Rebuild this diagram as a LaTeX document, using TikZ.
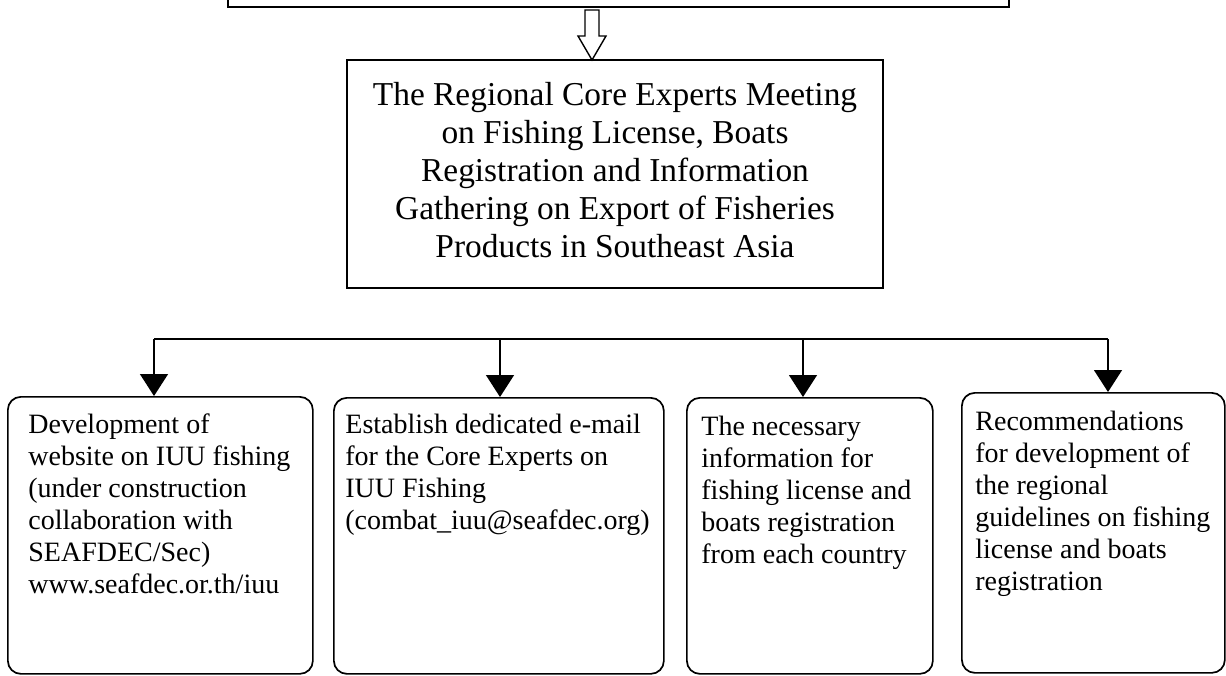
\documentclass[tikz,border=0pt]{standalone}
\usepackage{fontspec}
\setmainfont{Liberation Serif}
\usetikzlibrary{arrows.meta}
\begin{document}
\begin{tikzpicture}[x=0.5pt,y=-0.5pt,
  frame/.style={draw, line width=0.85pt, inner sep=0pt},
  rbox/.style={draw, line width=0.85pt, rounded corners=6.5pt, anchor=north west, inner sep=0pt},
  boxtext/.style={anchor=base west, inner sep=0pt, font=\fontsize{14}{16}\selectfont},
  conn/.style={line width=0.7pt},
  tipdown/.style={-{Triangle[width=14pt,length=11pt]}}]
\useasboundingbox (0,0) rectangle (1226,675);
\clip (0,0) rectangle (1226,675);
% top box (cut by the top edge)
\node[frame, anchor=south west, minimum width=390.5pt, minimum height=30pt] (top) at (227,8) {};
% middle box
\node[frame, minimum width=268pt, minimum height=114pt] (mid) at (615,174) {};
\node[align=center, inner sep=0pt, font=\fontsize{16.7}{19}\selectfont] (midtext) at ([yshift=2pt]mid.center)
  {The Regional Core Experts Meeting\\ on Fishing License, Boats\\ Registration and Information\\ Gathering on Export of Fisheries\\ Products in Southeast Asia};
% hollow arrow
\draw[line width=0.7pt, fill=white] (585,10) -- (599,10) -- (599,36) -- (606,36) -- (592,60) -- (578,36) -- (585,36) -- cycle;
% bottom boxes
\node[rbox, minimum width=152.5pt, minimum height=138.5pt] (b1) at (7,396) {};
\node[rbox, minimum width=165pt, minimum height=138pt] (b2) at (333,397) {};
\node[rbox, minimum width=123pt, minimum height=138pt] (b3) at (686,397) {};
\node[rbox, minimum width=131.5pt, minimum height=140pt] (b4) at (961,392) {};
% branch connectors
\coordinate (h1) at (154,339);
\coordinate (h2) at (500,339);
\coordinate (h3) at (803,339);
\coordinate (h4) at (1108,339);
\draw[conn] (h1) -- (h4);
\foreach \i in {1,2,3,4} {\draw[conn, tipdown] (h\i) -- (h\i |- b\i.north);}
% texts
\node[boxtext] (t1) at ([shift={(21,37)}]b1.north west) {\parbox[t]{150pt}{\raggedright Development of\\ website on IUU fishing\\ (under construction\\ collaboration with\\ SEAFDEC/Sec)\\ www.seafdec.or.th/iuu}};
\node[boxtext] (t2) at ([shift={(12,36)}]b2.north west) {\parbox[t]{160pt}{\raggedright Establish dedicated e-mail\\ for the Core Experts on\\ IUU Fishing\\ (combat\_iuu@seafdec.org)}};
\node[boxtext] (t3) at ([shift={(15,38)}]b3.north west) {\parbox[t]{120pt}{\raggedright The necessary\\ information for\\ fishing license and\\ boats registration\\ from each country}};
\node[boxtext] (t4) at ([shift={(14,38)}]b4.north west) {\parbox[t]{130pt}{\raggedright Recommendations\\ for development of\\ the regional\\ guidelines on fishing\\ license and boats\\ registration}};
\end{tikzpicture}
\end{document}
